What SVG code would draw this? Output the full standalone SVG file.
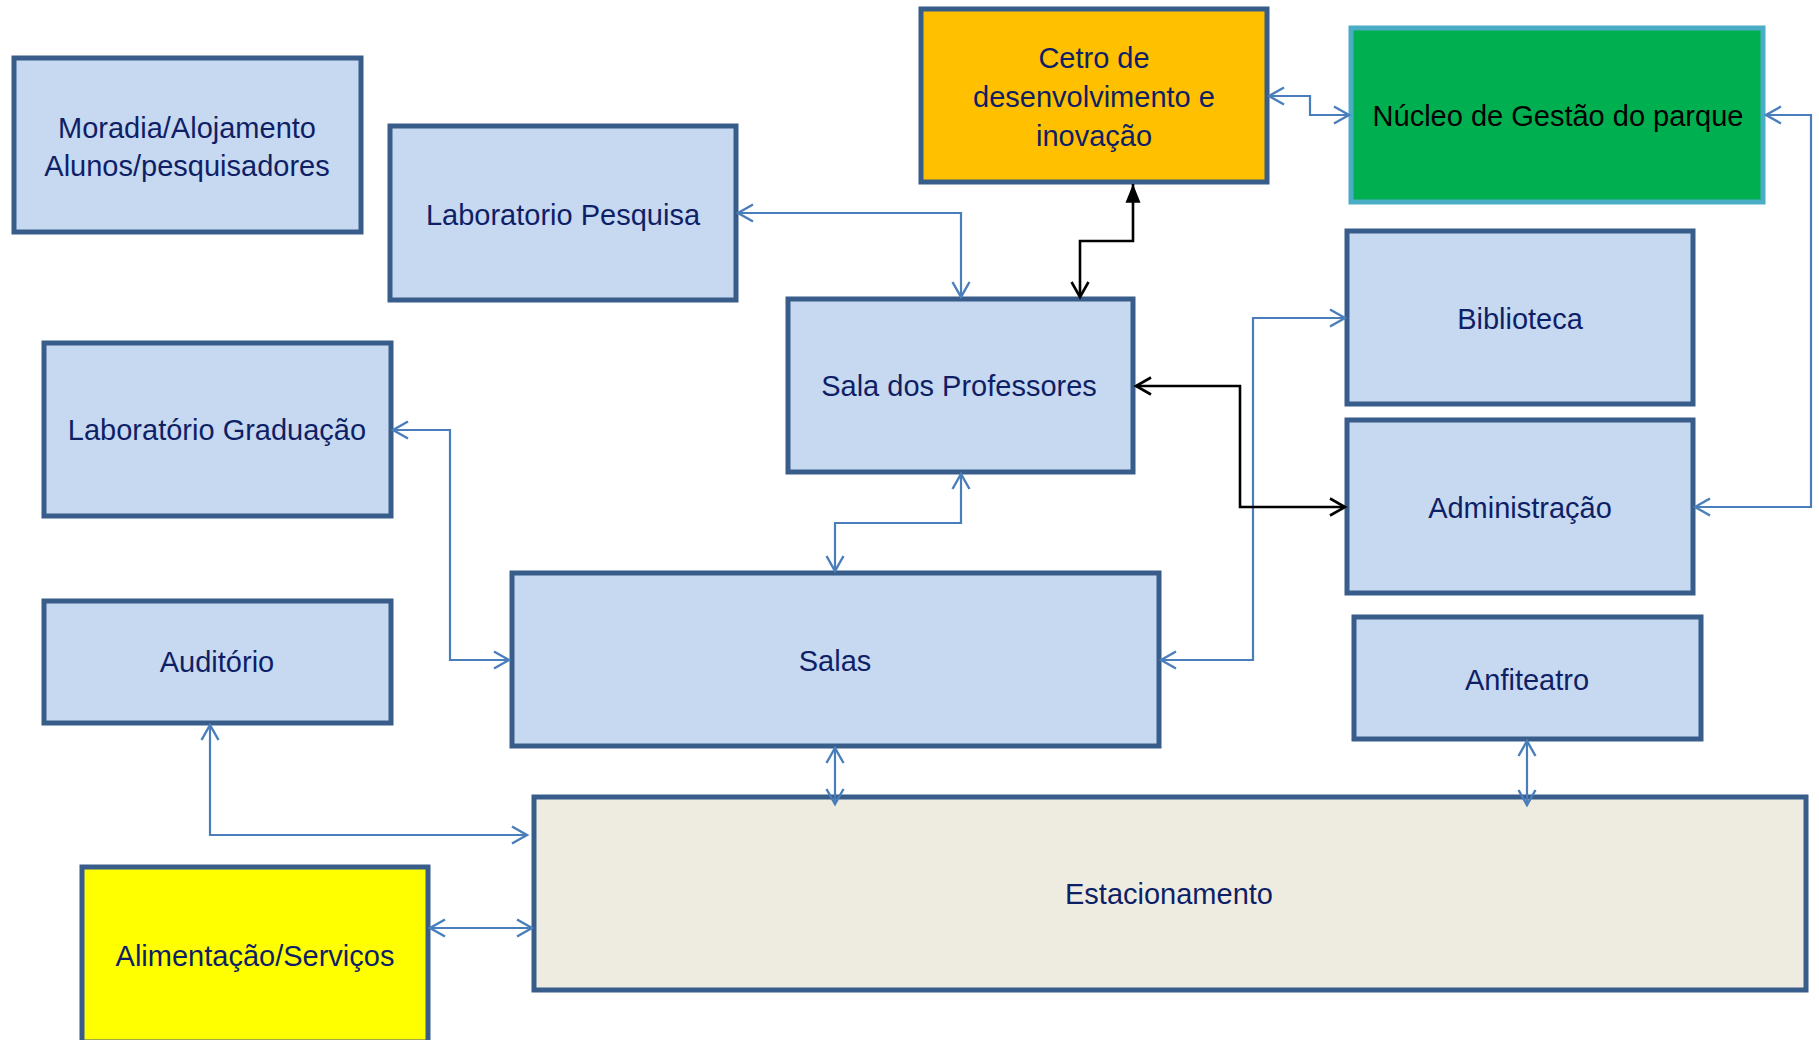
<svg xmlns="http://www.w3.org/2000/svg" width="1819" height="1040" viewBox="0 0 1819 1040">
<style>
.box{stroke:#385D8A;stroke-width:5}
.lb{fill:#C6D9F1}
.t{font-family:"Liberation Sans",Arial,sans-serif;font-size:29px;fill:#0F1F66;text-anchor:middle;dominant-baseline:central}
.c{fill:none;stroke:#4A7EBB;stroke-width:2.2;marker-start:url(#ab);marker-end:url(#ab)}
.k{fill:none;stroke:#000;stroke-width:2.6}
</style>
<defs>
<marker id="ab" markerUnits="userSpaceOnUse" markerWidth="20" markerHeight="20" refX="16" refY="9" orient="auto-start-reverse" viewBox="0 0 20 18">
<path d="M1,0.5 L16,9 L1,17.5" fill="none" stroke="#4A7EBB" stroke-width="2.4"/>
</marker>
<marker id="ak" markerUnits="userSpaceOnUse" markerWidth="20" markerHeight="20" refX="16" refY="9" orient="auto-start-reverse" viewBox="0 0 20 18">
<path d="M1,0.5 L16,9 L1,17.5" fill="none" stroke="#000" stroke-width="2.6"/>
</marker>
<marker id="akf" markerUnits="userSpaceOnUse" markerWidth="20" markerHeight="20" refX="15" refY="7" orient="auto" viewBox="0 0 16 14">
<path d="M0,1 L15,7 L0,13 Z" fill="#000"/>
</marker>
</defs>
<rect width="1819" height="1040" fill="#fff"/>
<g id="moradia"><rect class="box lb" x="14" y="58" width="347" height="174"/><text class="t" x="187" y="128">Moradia/Alojamento</text><text class="t" x="187" y="166">Alunos/pesquisadores</text></g>
<g id="lab-pesquisa"><rect class="box lb" x="390" y="126" width="346" height="174"/><text class="t" x="563" y="215">Laboratorio Pesquisa</text></g>
<g id="cetro"><rect class="box" fill="#FFC000" x="921" y="9" width="346" height="173"/><text class="t" x="1094" y="58">Cetro de</text><text class="t" x="1094" y="97">desenvolvimento e</text><text class="t" x="1094" y="136">inovação</text></g>
<g id="nucleo"><rect fill="#00B050" stroke="#4BACC6" stroke-width="5" x="1351" y="28" width="412" height="174"/><text class="t" style="fill:#000" x="1558" y="116">Núcleo de Gestão do parque</text></g>
<g id="sala-professores"><rect class="box lb" x="788" y="299" width="345" height="173"/><text class="t" x="959" y="386">Sala dos Professores</text></g>
<g id="biblioteca"><rect class="box lb" x="1347" y="231" width="346" height="173"/><text class="t" x="1520" y="319">Biblioteca</text></g>
<g id="administracao"><rect class="box lb" x="1347" y="420" width="346" height="173"/><text class="t" x="1520" y="508">Administração</text></g>
<g id="lab-graduacao"><rect class="box lb" x="44" y="343" width="347" height="173"/><text class="t" x="217" y="430">Laboratório Graduação</text></g>
<g id="salas"><rect class="box lb" x="512" y="573" width="647" height="173"/><text class="t" x="835" y="661">Salas</text></g>
<g id="auditorio"><rect class="box lb" x="44" y="601" width="347" height="122"/><text class="t" x="217" y="662">Auditório</text></g>
<g id="anfiteatro"><rect class="box lb" x="1354" y="617" width="347" height="122"/><text class="t" x="1527" y="680">Anfiteatro</text></g>
<g id="estacionamento"><rect class="box" fill="#EEECE1" x="534" y="797" width="1272" height="193"/><text class="t" x="1169" y="894">Estacionamento</text></g>
<g id="alimentacao"><rect class="box" fill="#FFFF00" x="82" y="867" width="346" height="175"/><text class="t" x="255" y="956">Alimentação/Serviços</text></g>
<g id="connectors">
<path class="c" d="M738,213 H961 V297"/>
<path class="c" d="M1269,96 H1310 V115 H1349"/>
<path class="c" d="M1766,115 H1811 V507 H1695"/>
<path class="c" d="M1345,318 H1253 V660 H1161"/>
<path class="c" d="M961,474 V523 H835 V571"/>
<path class="c" d="M393,430 H450 V660 H509"/>
<path class="c" d="M835,748 V804"/>
<path class="c" d="M210,725 V835 H527"/>
<path class="c" d="M430,928 H532"/>
<path class="c" d="M1527,741 V805"/>
<path class="k" d="M1080,297 V241 H1133 V184" marker-start="url(#ak)" marker-end="url(#akf)"/>
<path class="k" d="M1136,386 H1240 V507 H1345" marker-start="url(#ak)" marker-end="url(#ak)"/>
</g>
</svg>
